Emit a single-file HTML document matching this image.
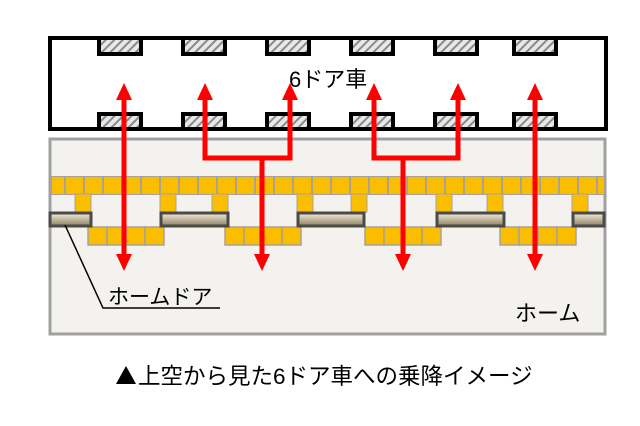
<!DOCTYPE html>
<html><head><meta charset="utf-8"><style>
html,body{margin:0;padding:0;background:#fff;}
svg{display:block;}
text{font-family:"Liberation Sans","Noto Sans CJK JP",sans-serif;}
</style></head><body>
<svg width="640" height="426" viewBox="0 0 640 426" xmlns="http://www.w3.org/2000/svg">
<defs>
<pattern id="hatch" width="6" height="6" patternUnits="userSpaceOnUse" patternTransform="rotate(45)">
<rect width="6" height="6" fill="#e8e8e8"/><rect width="2" height="6" fill="#8a8a8a"/>
</pattern>
<linearGradient id="rail" x1="0" y1="0" x2="0" y2="1">
<stop offset="0" stop-color="#f4eedc"/><stop offset="1" stop-color="#8e8060"/>
</linearGradient>
</defs>
<rect width="640" height="426" fill="#fff"/>
<!-- train -->
<rect x="50" y="38" width="556" height="91" fill="#fff" stroke="#000" stroke-width="4"/>
<g stroke="#000" stroke-width="4" fill="url(#hatch)">
<rect x="99" y="38" width="42" height="16"/><rect x="183" y="38" width="42" height="16"/>
<rect x="267" y="38" width="42" height="16"/><rect x="351" y="38" width="42" height="16"/>
<rect x="435" y="38" width="42" height="16"/><rect x="514" y="38" width="42" height="16"/>
<rect x="99" y="114" width="42" height="15"/><rect x="183" y="114" width="42" height="15"/>
<rect x="267" y="114" width="42" height="15"/><rect x="351" y="114" width="42" height="15"/>
<rect x="435" y="114" width="42" height="15"/><rect x="514" y="114" width="42" height="15"/>
</g>
<text x="289" y="87" font-size="22" fill="#000">6ドア車</text>
<!-- platform -->
<rect x="50" y="139" width="555" height="195" fill="#f3f2ee" stroke="#a0a0a0" stroke-width="3"/>
<!-- tiles top row -->
<rect x="51" y="176" width="553" height="19" fill="#a8a29a"/>
<g fill="#fbbd00">
<rect x="52" y="177" width="12" height="17"/>
<rect x="66" y="177" width="17" height="17"/><rect x="85" y="177" width="17" height="17"/>
<rect x="104" y="177" width="17" height="17"/><rect x="123" y="177" width="17" height="17"/>
<rect x="142" y="177" width="17" height="17"/><rect x="161" y="177" width="17" height="17"/>
<rect x="180" y="177" width="17" height="17"/><rect x="199" y="177" width="17" height="17"/>
<rect x="218" y="177" width="17" height="17"/><rect x="237" y="177" width="17" height="17"/>
<rect x="256" y="177" width="17" height="17"/><rect x="275" y="177" width="17" height="17"/>
<rect x="294" y="177" width="17" height="17"/><rect x="313" y="177" width="17" height="17"/>
<rect x="332" y="177" width="17" height="17"/><rect x="351" y="177" width="17" height="17"/>
<rect x="370" y="177" width="17" height="17"/><rect x="389" y="177" width="17" height="17"/>
<rect x="408" y="177" width="17" height="17"/><rect x="427" y="177" width="17" height="17"/>
<rect x="446" y="177" width="17" height="17"/><rect x="465" y="177" width="17" height="17"/>
<rect x="484" y="177" width="17" height="17"/><rect x="503" y="177" width="17" height="17"/>
<rect x="522" y="177" width="17" height="17"/><rect x="541" y="177" width="17" height="17"/>
<rect x="560" y="177" width="17" height="17"/><rect x="579" y="177" width="17" height="17"/>
<rect x="598" y="177" width="6" height="17"/>
</g>
<!-- connectors -->
<g fill="#fbbd00" stroke="#a8a29a" stroke-width="1">
<rect x="75" y="194" width="16" height="18"/><rect x="160" y="194" width="16" height="18"/>
<rect x="212" y="194" width="16" height="18"/><rect x="297" y="194" width="16" height="18"/>
<rect x="351" y="194" width="16" height="18"/><rect x="436" y="194" width="16" height="18"/>
<rect x="487" y="194" width="16" height="18"/><rect x="572" y="194" width="16" height="18"/>
</g>
<!-- lower tiles -->
<g fill="#fbbd00" stroke="#a8a29a" stroke-width="1.5">
<rect x="88" y="227" width="19" height="18"/><rect x="107" y="227" width="19" height="18"/><rect x="126" y="227" width="19" height="18"/><rect x="145" y="227" width="19" height="18"/>
<rect x="225" y="227" width="19" height="18"/><rect x="244" y="227" width="19" height="18"/><rect x="263" y="227" width="19" height="18"/><rect x="282" y="227" width="19" height="18"/>
<rect x="365" y="227" width="19" height="18"/><rect x="384" y="227" width="19" height="18"/><rect x="403" y="227" width="19" height="18"/><rect x="422" y="227" width="19" height="18"/>
<rect x="500" y="227" width="19" height="18"/><rect x="519" y="227" width="19" height="18"/><rect x="538" y="227" width="19" height="18"/><rect x="557" y="227" width="19" height="18"/>
</g>
<!-- rails -->
<g stroke="#4a4a4a" stroke-width="3" fill="url(#rail)">
<rect x="50" y="213" width="41" height="13"/><rect x="161" y="213" width="67" height="13"/>
<rect x="298" y="213" width="66" height="13"/><rect x="437" y="213" width="67" height="13"/>
<rect x="573" y="213" width="31" height="13"/>
</g>
<!-- red arrows -->
<g stroke="#ff0000" stroke-width="5" fill="none">
<line x1="124" y1="96" x2="124" y2="258"/>
<polyline points="205,96 205,158 290,158 290,96"/>
<line x1="262" y1="158" x2="262" y2="258"/>
<polyline points="374,96 374,158 458,158 458,96"/>
<line x1="403" y1="158" x2="403" y2="258"/>
<line x1="535" y1="96" x2="535" y2="258"/>
</g>
<g fill="#ff0000">
<polygon points="124,83 116,100 132,100"/><polygon points="124,271 116,254 132,254"/>
<polygon points="205,83 197,100 213,100"/><polygon points="290,83 282,100 298,100"/>
<polygon points="262,271 254,254 270,254"/>
<polygon points="374,83 366,100 382,100"/><polygon points="458,83 450,100 466,100"/>
<polygon points="403,271 395,254 411,254"/>
<polygon points="535,83 527,100 543,100"/><polygon points="535,271 527,254 543,254"/>
</g>
<!-- labels -->
<polyline points="65,225 103,308 220,308" fill="none" stroke="#000" stroke-width="1.5"/>
<text x="108" y="304" font-size="21" fill="#000">ホームドア</text>
<text x="515" y="321" font-size="22" fill="#000">ホーム</text>
<polygon points="126,366 116,384 136,384" fill="#000"/>
<text x="138" y="384" font-size="22.5" fill="#000">上空から見た6ドア車への乗降イメージ</text>
</svg>
</body></html>
